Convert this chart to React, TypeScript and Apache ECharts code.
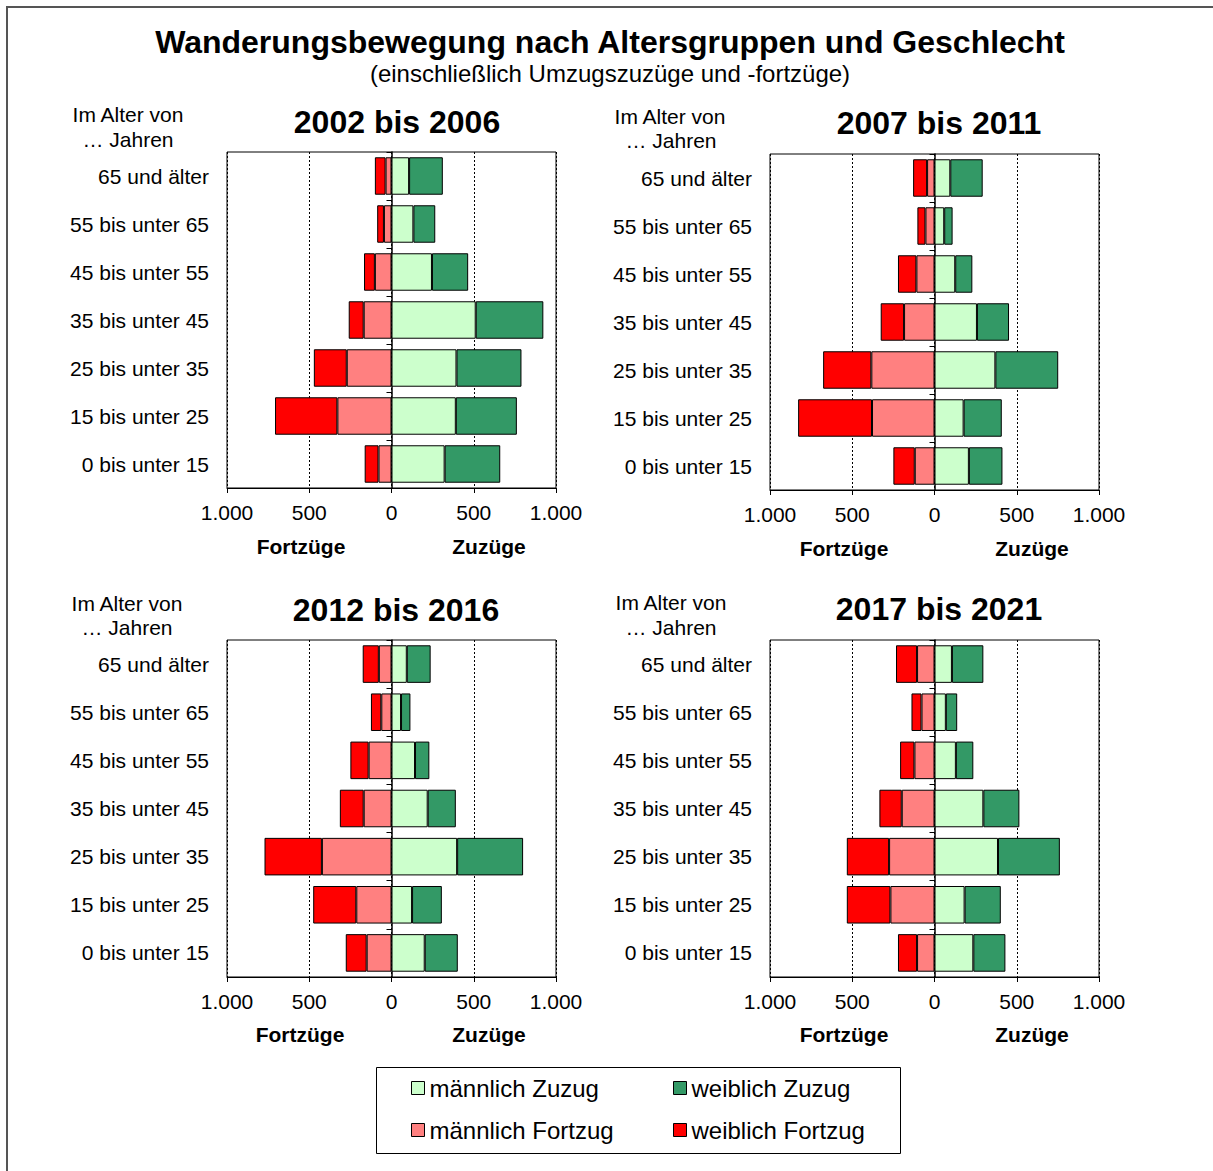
import React, { useEffect, useRef } from "react";
import * as echarts from "echarts";

const FONT = "'Liberation Sans', Arial, sans-serif";

const categories = [
  "0 bis unter 15",
  "15 bis unter 25",
  "25 bis unter 35",
  "35 bis unter 45",
  "45 bis unter 55",
  "55 bis unter 65",
  "65 und älter",
];

const periods = ["2002 bis 2006", "2007 bis 2011", "2012 bis 2016", "2017 bis 2021"];

// values per period, categories in order 0-15 ... 65+
const maleZuzug_2002 = [323, 391, 395, 512, 246, 133, 107];
const femaleZuzug_2002 = [338, 371, 395, 411, 220, 133, 205];
const maleFortzug_2002 = [79, 329, 272, 169, 101, 46, 36];
const femaleFortzug_2002 = [84, 379, 200, 91, 66, 41, 65];

const maleZuzug_2007 = [209, 177, 370, 258, 126, 59, 96];
const femaleZuzug_2007 = [204, 232, 382, 195, 104, 51, 197];
const maleFortzug_2007 = [120, 380, 384, 185, 110, 55, 45];
const femaleFortzug_2007 = [130, 449, 293, 142, 112, 49, 85];

const maleZuzug_2012 = [202, 125, 399, 220, 143, 58, 93];
const femaleZuzug_2012 = [201, 181, 401, 171, 87, 57, 145];
const maleFortzug_2012 = [151, 214, 423, 169, 139, 62, 77];
const femaleFortzug_2012 = [127, 262, 349, 145, 111, 63, 98];

const maleZuzug_2017 = [236, 183, 386, 297, 130, 69, 106];
const femaleZuzug_2017 = [195, 220, 376, 219, 106, 69, 191];
const maleFortzug_2017 = [106, 268, 276, 199, 122, 79, 106];
const femaleFortzug_2017 = [116, 265, 257, 136, 87, 61, 128];

const xTicks = [-1000, -500, 0, 500, 1000];

const seriesNames = ["männlich Zuzug", "weiblich Zuzug", "männlich Fortzug", "weiblich Fortzug"];
const seriesColors = ["#CCFFCC", "#339966", "#FF8080", "#FF0000"];

const panelData = [
  [maleZuzug_2002, femaleZuzug_2002, maleFortzug_2002, femaleFortzug_2002],
  [maleZuzug_2007, femaleZuzug_2007, maleFortzug_2007, femaleFortzug_2007],
  [maleZuzug_2012, femaleZuzug_2012, maleFortzug_2012, femaleFortzug_2012],
  [maleZuzug_2017, femaleZuzug_2017, maleFortzug_2017, femaleFortzug_2017],
];

// layout
const grids = [
  { left: 227, top: 152, width: 329, height: 336 },
  { left: 770, top: 154, width: 329, height: 336 },
  { left: 227, top: 640, width: 329, height: 337 },
  { left: 770, top: 640, width: 329, height: 337 },
];

const fmt = (v: number) => {
  const a = Math.abs(v);
  return a >= 1000 ? String(Math.floor(a / 1000)) + "." + String(a % 1000).padStart(3, "0") : String(a);
};

function txt(text: string, x: number, y: number, size: number, bold: boolean, align = "center") {
  return {
    type: "text",
    x,
    y,
    silent: true,
    style: {
      text,
      fill: "#000",
      fontSize: size,
      fontWeight: bold ? "bold" : "normal",
      fontFamily: FONT,
      align,
      verticalAlign: "middle",
      textAlign: align,
      textVerticalAlign: "middle",
    },
  };
}

export default function App() {
  const ref = useRef<HTMLDivElement>(null);

  useEffect(() => {
    if (!ref.current) return;
    const chart = echarts.init(ref.current, null, { renderer: "svg" });

    const xAxis: any[] = [];
    const yAxis: any[] = [];
    const series: any[] = [];

    grids.forEach((g, i) => {
      xAxis.push({
        gridIndex: i,
        type: "value",
        min: xTicks[0],
        max: xTicks[xTicks.length - 1],
        interval: 500,
        axisLine: { show: true, onZero: false, lineStyle: { color: "#000", width: 1 } },
        axisTick: { show: true, length: 5, lineStyle: { color: "#000" } },
        axisLabel: {
          formatter: (v: number) => fmt(v),
          fontSize: 21,
          color: "#000",
          fontFamily: FONT,
          margin: 14,
        },
        splitLine: { show: true, lineStyle: { color: "#000", type: [2, 2], width: 1 } },
      });
      yAxis.push({
        gridIndex: i,
        type: "category",
        data: categories,
        position: "left",
        axisLine: { show: true, onZero: true, lineStyle: { color: "#000", width: 1.5 } },
        axisTick: { show: true, length: 5, lineStyle: { color: "#000" } },
        axisLabel: { show: false },
        splitLine: { show: false },
      });
      yAxis.push({
        gridIndex: i,
        type: "category",
        data: categories,
        position: "left",
        axisLine: { show: false, onZero: false },
        axisTick: { show: false },
        axisLabel: { fontSize: 21, color: "#000", fontFamily: FONT, margin: 18 },
        splitLine: { show: false },
      });
      const d = panelData[i];
      seriesNames.forEach((name, k) => {
        const neg = k >= 2;
        series.push({
          type: "bar",
          name,
          xAxisIndex: i,
          yAxisIndex: i * 2,
          stack: "s" + i,
          barCategoryGap: "22%",
          data: d[k].map((v) => (neg ? -v : v)),
          itemStyle: { color: seriesColors[k], borderColor: "#000", borderWidth: 1 },
          emphasis: { disabled: true },
        });
      });
    });

    const graphic: any[] = [
      {
        type: "rect",
        shape: { x: 7, y: 7, width: 1220, height: 1180 },
        style: { fill: "none", stroke: "#555", lineWidth: 2 },
        silent: true,
      },
      {
        type: "rect",
        shape: { x: 376.5, y: 1067.5, width: 524, height: 86 },
        style: { fill: "none", stroke: "#000", lineWidth: 1 },
        silent: true,
      },
      txt("Wanderungsbewegung nach Altersgruppen und Geschlecht", 610, 42, 32, true),
      txt("(einschließlich Umzugszuzüge und -fortzüge)", 610, 73, 24, false),
      txt(periods[0], 397, 122, 32, true),
      txt(periods[1], 939, 123, 32, true),
      txt(periods[2], 396, 610, 32, true),
      txt(periods[3], 939, 609, 32, true),
      txt("Im Alter von", 128, 114, 21, false),
      txt("… Jahren", 128, 139, 21, false),
      txt("Im Alter von", 670, 116, 21, false),
      txt("… Jahren", 671, 140, 21, false),
      txt("Im Alter von", 127, 603, 21, false),
      txt("… Jahren", 127, 627, 21, false),
      txt("Im Alter von", 671, 602, 21, false),
      txt("… Jahren", 671, 627, 21, false),
      txt("Fortzüge", 301, 546, 21, true),
      txt("Zuzüge", 489, 546, 21, true),
      txt("Fortzüge", 844, 548, 21, true),
      txt("Zuzüge", 1032, 548, 21, true),
      txt("Fortzüge", 300, 1034, 21, true),
      txt("Zuzüge", 489, 1034, 21, true),
      txt("Fortzüge", 844, 1034, 21, true),
      txt("Zuzüge", 1032, 1034, 21, true),
    ];

    const legendCommon = {
      orient: "vertical",
      top: 1076,
      icon: "rect",
      itemWidth: 13,
      itemHeight: 13,
      itemGap: 18,
      padding: 0,
      selectedMode: false,
      itemStyle: { borderColor: "#000", borderWidth: 1 },
      textStyle: { fontSize: 24, color: "#000", fontFamily: FONT, lineHeight: 24 },
    };

    chart.setOption({
      animation: false,
      backgroundColor: "#fff",
      textStyle: { fontFamily: FONT },
      grid: grids.map((g) => ({
        ...g,
        show: true,
        borderColor: "#000",
        borderWidth: 1,
        backgroundColor: "transparent",
        containLabel: false,
      })),
      xAxis,
      yAxis,
      series,
      legend: [
        { ...legendCommon, left: 411, data: ["männlich Zuzug", "männlich Fortzug"] },
        { ...legendCommon, left: 673, data: ["weiblich Zuzug", "weiblich Fortzug"] },
      ],
      graphic,
    });

    return () => chart.dispose();
  }, []);

  return (
    <div
      ref={ref}
      style={{ position: "absolute", left: 0, top: 0, width: 1213, height: 1171 }}
    />
  );
}
